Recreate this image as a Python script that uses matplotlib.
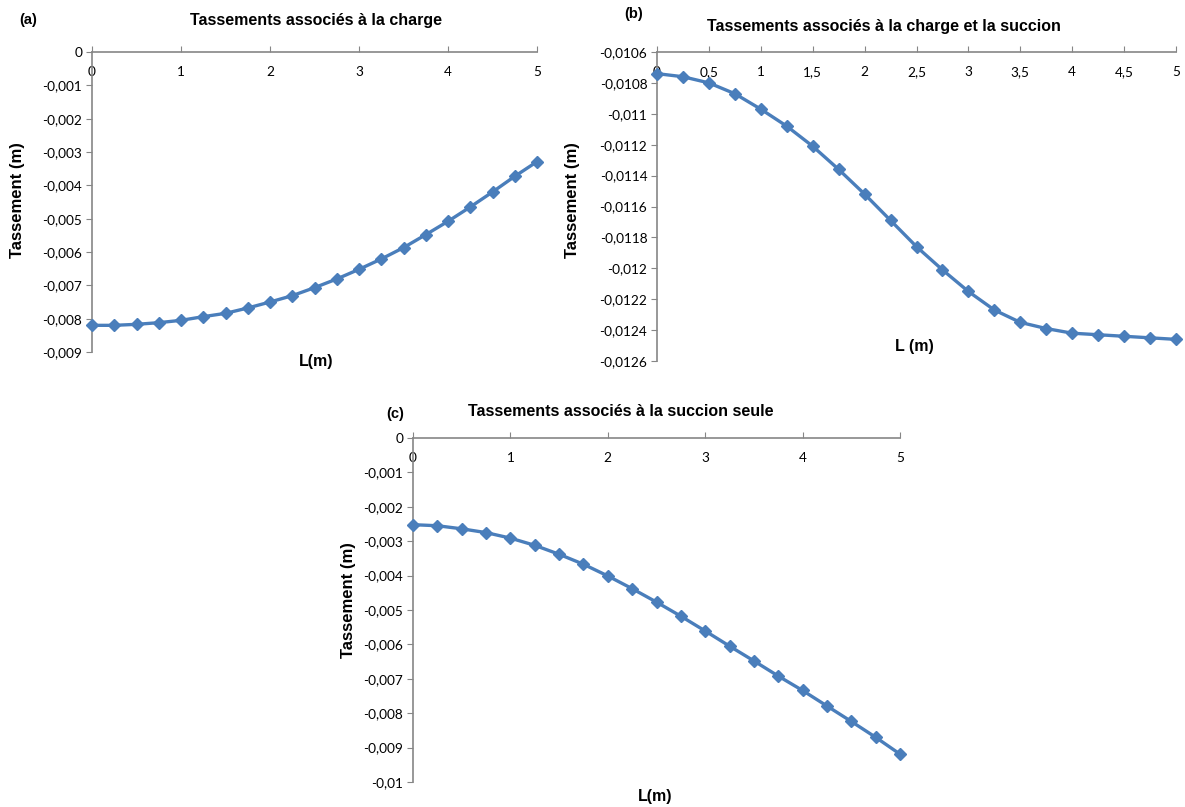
import numpy as np
import matplotlib
matplotlib.use("Agg")
import matplotlib.pyplot as plt

# Abscisses communes (m)
L = [0, 0.25, 0.5, 0.75, 1, 1.25, 1.5, 1.75, 2, 2.25, 2.5,
     2.75, 3, 3.25, 3.5, 3.75, 4, 4.25, 4.5, 4.75, 5]

# (a) charge seule
tass_charge = [-0.00820, -0.00820, -0.00817, -0.00812, -0.00805, -0.00794,
               -0.00784, -0.00768, -0.00750, -0.00731, -0.00707, -0.00681,
               -0.00652, -0.00621, -0.00587, -0.00548, -0.00508, -0.00465,
               -0.00420, -0.00373, -0.00329]

# (b) charge + succion
tass_charge_succion = [-0.01074, -0.01076, -0.01080, -0.01087, -0.01097,
                       -0.01108, -0.01121, -0.01136, -0.01152, -0.01169,
                       -0.01186, -0.01201, -0.01215, -0.01227, -0.01235,
                       -0.01239, -0.01242, -0.01243, -0.01244, -0.01245,
                       -0.01246]

# (c) succion seule
tass_succion = [-0.00252, -0.00255, -0.00264, -0.00275, -0.00291, -0.00312,
                -0.00338, -0.00367, -0.00401, -0.00438, -0.00477, -0.00518,
                -0.00561, -0.00605, -0.00648, -0.00692, -0.00734, -0.00779,
                -0.00824, -0.00870, -0.00919]

xticks_int = [0, 1, 2, 3, 4, 5]
xticks_half = [0, 0.5, 1, 1.5, 2, 2.5, 3, 3.5, 4, 4.5, 5]
yticks_a = [0, -0.001, -0.002, -0.003, -0.004, -0.005, -0.006, -0.007, -0.008, -0.009]
yticks_b = [-0.0106, -0.0108, -0.011, -0.0112, -0.0114, -0.0116, -0.0118,
            -0.012, -0.0122, -0.0124, -0.0126]
yticks_c = [0, -0.001, -0.002, -0.003, -0.004, -0.005, -0.006, -0.007,
            -0.008, -0.009, -0.01]

BLUE = "#4a7ebb"
GREY = "#868686"
W, H = 1185, 807


def fr(v):
    # format decimal a la francaise
    s = ("%.4f" % v).rstrip("0").rstrip(".")
    if s in ("-0", ""):
        s = "0"
    return s.replace(".", ",")


def panel(rect, y, xt, yt, ylim):
    x0, y0, x1, y1 = rect  # pixels
    ax = fig.add_axes([x0 / W, 1 - y1 / H, (x1 - x0) / W, (y1 - y0) / H])
    ax.plot(L, y, color=BLUE, lw=2.4, marker="D", ms=6.5, mec=BLUE, mfc=BLUE,
            clip_on=False, zorder=5)
    ax.set_xlim(0, 5)
    ax.set_ylim(*ylim)
    for s in ["right", "bottom"]:
        ax.spines[s].set_visible(False)
    for s in ["left", "top"]:
        ax.spines[s].set_color(GREY)
        ax.spines[s].set_linewidth(1.2)
    ax.set_xticks(xt)
    ax.set_xticklabels([fr(v) for v in xt])
    ax.set_yticks(yt)
    ax.set_yticklabels([fr(v) for v in yt])
    ax.tick_params(axis="x", top=True, bottom=False, labeltop=True,
                   labelbottom=False, direction="out", length=4,
                   color=GREY, pad=-23, labelsize=9.8)
    ax.tick_params(axis="y", direction="out", length=4, color=GREY,
                   labelsize=9.8, pad=3)
    for lab in ax.get_xticklabels() + ax.get_yticklabels():
        lab.set_fontfamily("Lato")
    return ax


fig = plt.figure(figsize=(W / 100, H / 100), dpi=100)
plt.rcParams["font.family"] = ["Liberation Sans", "DejaVu Sans"]

panel((92, 52, 537, 352), tass_charge, xticks_int, yticks_a, (-0.009, 0))
panel((657, 52, 1176, 361), tass_charge_succion, xticks_half, yticks_b,
      (-0.0126, -0.0106))
panel((413, 438, 900, 782), tass_succion, xticks_int, yticks_c, (-0.01, 0))


def txt(x, y, s, size=10, rot=0):
    fig.text(x / W, 1 - y / H, s, ha="center", va="center", fontsize=size,
             fontweight="bold", rotation=rot)


# (a)
txt(28, 20, "(a)", 10.5)
txt(316, 20, "Tassements associés à la charge", 11.5)
txt(316, 362, "L(m)", 11.5)
txt(18, 200, "Tassement (m)", 12, 90)
# (b)
txt(634, 14, "(b)", 10.5)
txt(884, 27, "Tassements associés à la charge et la succion", 11.5)
txt(914, 347, "L (m)", 11.5)
txt(572, 200, "Tassement (m)", 12, 90)
# (c)
txt(395, 414, "(c)", 10.5)
txt(621, 411, "Tassements associés à la succion seule", 11.5)
txt(655, 797, "L(m)", 11.5)
txt(348, 600, "Tassement (m)", 12, 90)

fig.savefig("out.png", dpi=100)
